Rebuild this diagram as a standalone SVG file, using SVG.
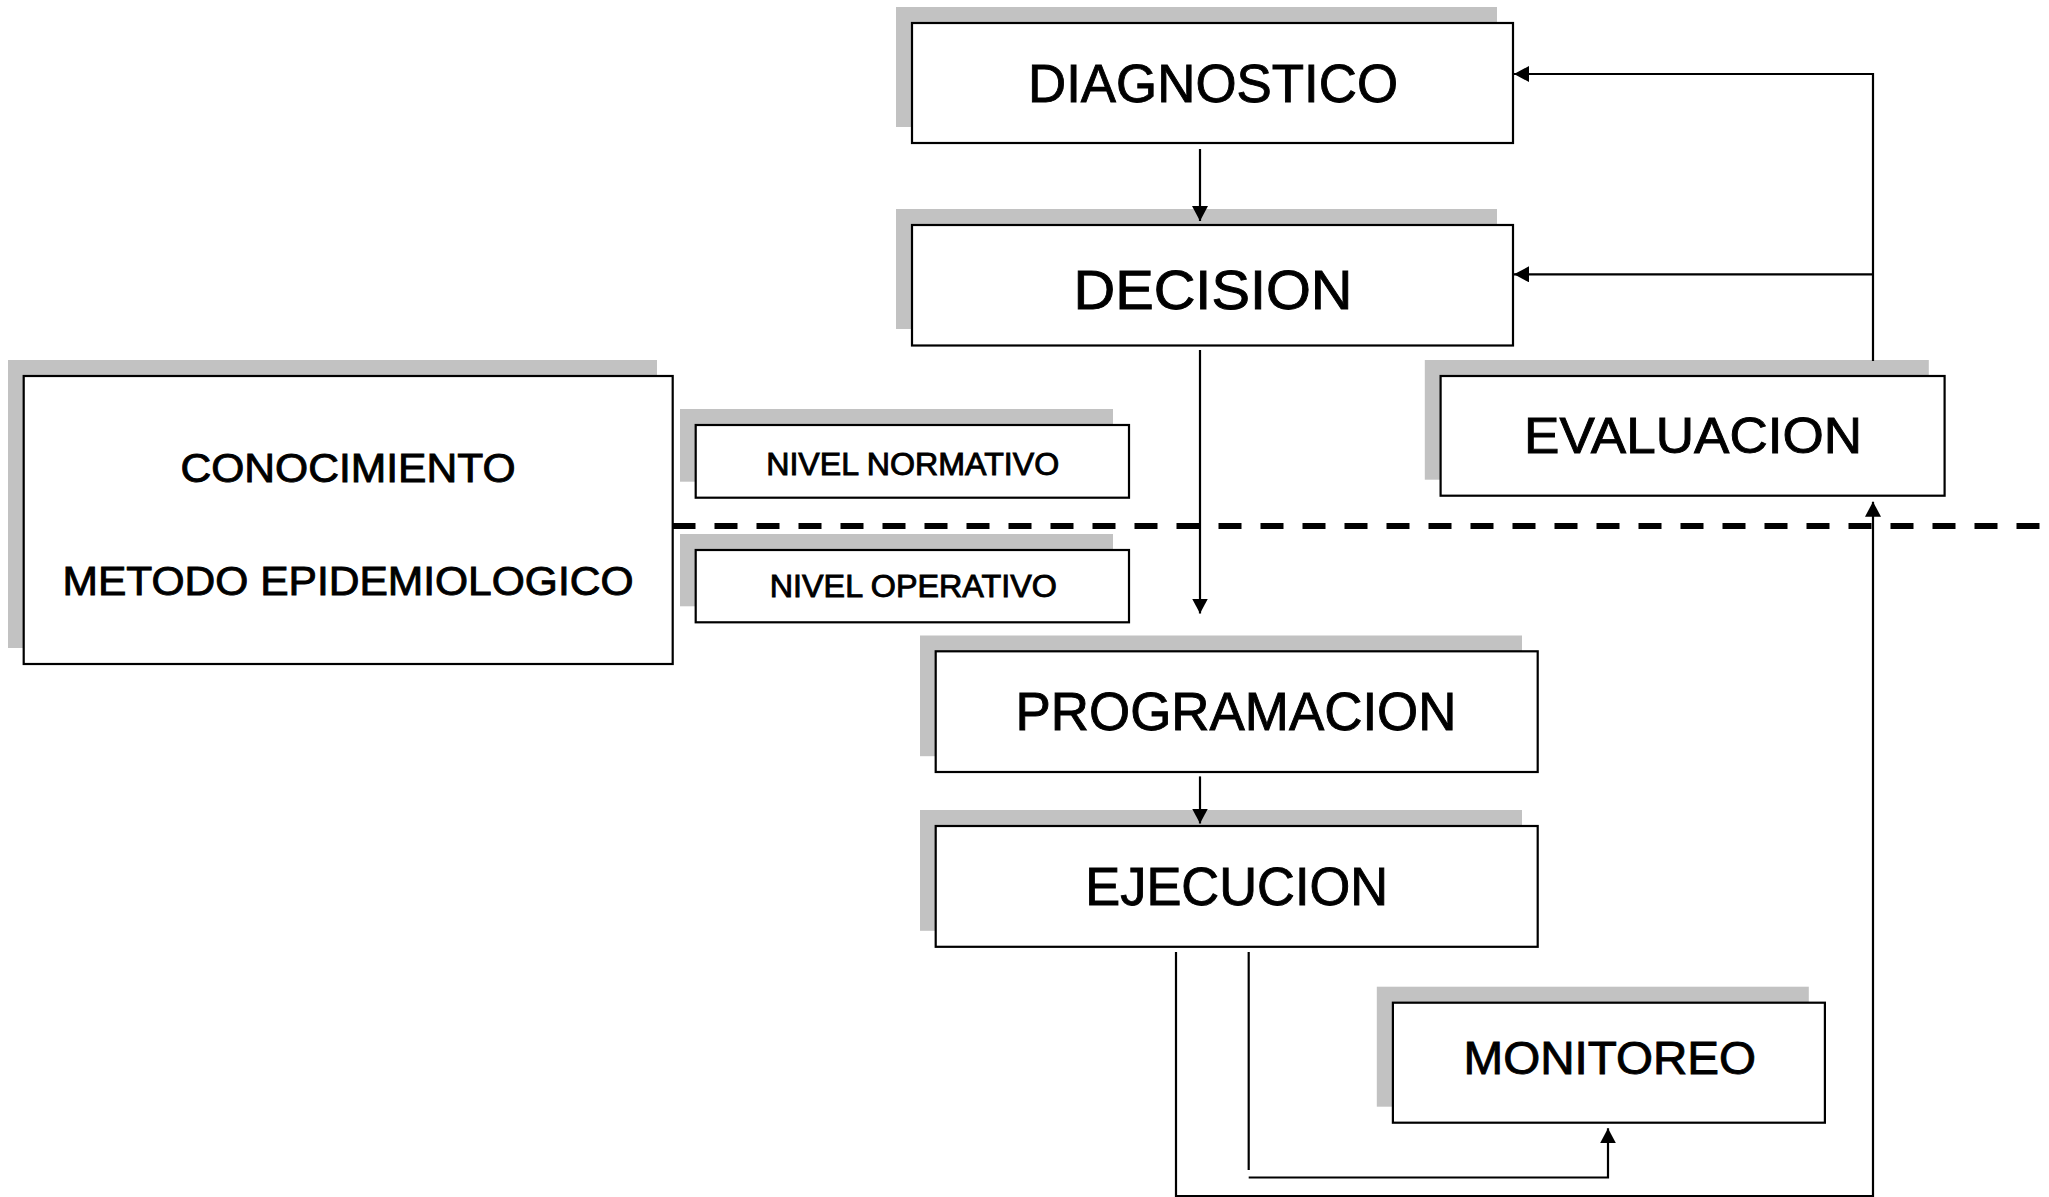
<svg xmlns="http://www.w3.org/2000/svg" width="2049" height="1197" viewBox="0 0 2049 1197">
<style>
.sh{fill:#c2c2c2;stroke:none}
.bx{fill:#fff;stroke:#000;stroke-width:2.2}
.t{font-family:"Liberation Sans",Arial,sans-serif;fill:#000;stroke:#000;stroke-width:0.9;text-anchor:middle}
.c{fill:none;stroke:#000;stroke-width:2.2}
</style>
<defs>
<marker id="ah" markerUnits="userSpaceOnUse" markerWidth="17" markerHeight="17" refX="15" refY="8" orient="auto">
<path d="M0,0 L15,8 L0,16 z" fill="#000"/>
</marker>
</defs>
<rect x="0" y="0" width="2049" height="1197" fill="#fff"/>
<g id="diagnostico">
<rect class="sh" x="896" y="7" width="601" height="120"/>
<rect class="bx" x="912" y="23" width="601" height="120"/>
<text class="t" x="1213" y="101.7" font-size="54" textLength="370" lengthAdjust="spacingAndGlyphs">DIAGNOSTICO</text>
</g>
<g id="decision">
<rect class="sh" x="896" y="209" width="601" height="120"/>
<rect class="bx" x="912" y="225" width="601" height="120.5"/>
<text class="t" x="1213" y="309" font-size="55" textLength="279" lengthAdjust="spacingAndGlyphs">DECISION</text>
</g>
<g id="conocimiento">
<rect class="sh" x="8" y="360" width="649" height="288"/>
<rect class="bx" x="23.7" y="376" width="649" height="288"/>
<text class="t" x="348" y="481.7" font-size="40" textLength="335" lengthAdjust="spacingAndGlyphs">CONOCIMIENTO</text>
<text class="t" x="348" y="595" font-size="40" textLength="571" lengthAdjust="spacingAndGlyphs">METODO EPIDEMIOLOGICO</text>
</g>
<g id="nivel-normativo">
<rect class="sh" x="680" y="409" width="433" height="72.7"/>
<rect class="bx" x="695.7" y="425" width="433.3" height="72.7"/>
<text class="t" x="912.7" y="475" font-size="30.5" textLength="293" lengthAdjust="spacingAndGlyphs">NIVEL NORMATIVO</text>
</g>
<g id="nivel-operativo">
<rect class="sh" x="680" y="534" width="433" height="72.3"/>
<rect class="bx" x="695.7" y="550" width="433.3" height="72.3"/>
<text class="t" x="913.3" y="596.7" font-size="30.5" textLength="287" lengthAdjust="spacingAndGlyphs">NIVEL OPERATIVO</text>
</g>
<g id="evaluacion">
<rect class="sh" x="1424.8" y="360" width="504" height="119.7"/>
<rect class="bx" x="1440.6" y="376" width="504" height="119.7"/>
<text class="t" x="1693" y="453.3" font-size="50.5" textLength="338" lengthAdjust="spacingAndGlyphs">EVALUACION</text>
</g>
<g id="programacion">
<rect class="sh" x="920" y="635.5" width="602" height="120.7"/>
<rect class="bx" x="935.7" y="651.3" width="602" height="120.7"/>
<text class="t" x="1236" y="730.4" font-size="54" textLength="441" lengthAdjust="spacingAndGlyphs">PROGRAMACION</text>
</g>
<g id="ejecucion">
<rect class="sh" x="920" y="810" width="602" height="120.8"/>
<rect class="bx" x="935.7" y="826" width="602" height="120.8"/>
<text class="t" x="1236.7" y="905.2" font-size="54" textLength="303" lengthAdjust="spacingAndGlyphs">EJECUCION</text>
</g>
<g id="monitoreo">
<rect class="sh" x="1376.8" y="986.7" width="432" height="120"/>
<rect class="bx" x="1392.9" y="1002.7" width="432" height="120"/>
<text class="t" x="1609.8" y="1074" font-size="46.5" textLength="292.5" lengthAdjust="spacingAndGlyphs">MONITOREO</text>
</g>
<g id="connectors">
<line x1="672.5" y1="526" x2="2049" y2="526" stroke="#000" stroke-width="6" stroke-dasharray="23 19"/>
<line class="c" x1="1200" y1="149" x2="1200" y2="221" marker-end="url(#ah)"/>
<line class="c" x1="1200" y1="350" x2="1200" y2="613.5" marker-end="url(#ah)"/>
<line class="c" x1="1200" y1="776.4" x2="1200" y2="823.5" marker-end="url(#ah)"/>
<polyline class="c" points="1873,361 1873,74 1514,74" marker-end="url(#ah)"/>
<line class="c" x1="1873" y1="274.3" x2="1514" y2="274.3" marker-end="url(#ah)"/>
<polyline class="c" points="1176,952 1176,1196 1873,1196 1873,501.7" marker-end="url(#ah)"/>
<line class="c" x1="1248.7" y1="952" x2="1248.7" y2="1170"/>
<polyline class="c" points="1248.7,1177.5 1608,1177.5 1608,1128.3" marker-end="url(#ah)"/>
</g>
</svg>
